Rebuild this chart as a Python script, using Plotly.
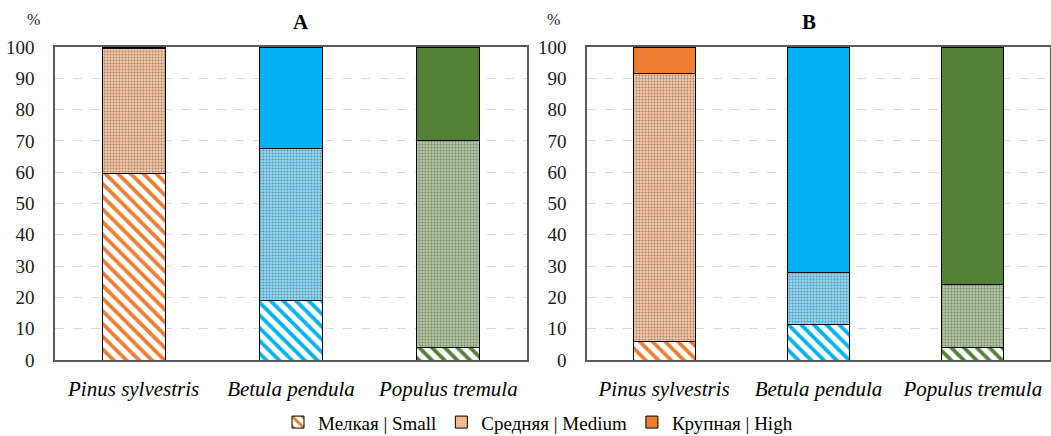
import plotly.graph_objects as go

# Species shown on both panels
species = ["Pinus sylvestris", "Betula pendula", "Populus tremula"]

# Panel A: share (%) of each size class
a_small = [59.5, 19, 4]
a_medium = [40, 48.5, 66]
a_high = [0.5, 32.5, 30]

# Panel B: share (%) of each size class
b_small = [6, 11.5, 4]
b_medium = [85.5, 16.5, 20]
b_high = [8.5, 72, 76]

class_names = ["Мелкая | Small", "Средняя | Medium", "Крупная | High"]
y_ticks = [0, 10, 20, 30, 40, 50, 60, 70, 80, 90, 100]

# One colour per species: strong tone and the pale tone under the dot screen
strong = ["#ED7D31", "#00B0F0", "#538135"]
pale = ["#F8C4A0", "#8AD8F7", "#AEC59F"]

SERIF = "Liberation Serif"
W, H = 1051, 436

fig = go.Figure()


def add_panel(small, medium, high, xa, ya, legend):
    fig.add_trace(go.Bar(
        x=species, y=small, name=class_names[0], xaxis=xa, yaxis=ya,
        showlegend=legend, legendgroup="s",
        marker=dict(color="white", line=dict(color="black", width=1),
                    pattern=dict(shape="\\", fgcolor=strong, bgcolor="white",
                                 size=9, solidity=0.42, fillmode="replace")),
    ))
    fig.add_trace(go.Bar(
        x=species, y=medium, name=class_names[1], xaxis=xa, yaxis=ya,
        showlegend=legend, legendgroup="m",
        marker=dict(color=pale, line=dict(color="black", width=1),
                    pattern=dict(shape=".", fgcolor=strong, size=3,
                                 solidity=0.3, fillmode="overlay")),
    ))
    fig.add_trace(go.Bar(
        x=species, y=high, name=class_names[2], xaxis=xa, yaxis=ya,
        showlegend=legend, legendgroup="h",
        marker=dict(color=strong, line=dict(color="black", width=1)),
    ))


add_panel(a_small, a_medium, a_high, "x", "y", True)
add_panel(b_small, b_medium, b_high, "x2", "y2", False)

y_dom = [1 - 360 / H, 1 - 47 / H]
frame = dict(showline=True, mirror=True, linecolor="#595959", linewidth=1.5)

x_cfg = dict(showgrid=False, ticks="", ticklabelstandoff=9,
             tickfont=dict(family=SERIF, size=21, color="black",
                           style="italic"), **frame)
y_cfg = dict(range=[0, 100], tickvals=y_ticks, showgrid=True,
             gridcolor="#D9D9D9", griddash="dash", gridwidth=1, ticks="",
             ticklabelstandoff=15, zeroline=False,
             tickfont=dict(family=SERIF, size=19, color="#1a1a1a"), **frame)

fig.update_layout(
    width=W, height=H, margin=dict(l=0, r=0, t=0, b=0, autoexpand=False),
    paper_bgcolor="white", plot_bgcolor="white",
    barmode="stack", bargap=0.6,
    xaxis=dict(domain=[55 / W, 527 / W], anchor="y", **x_cfg),
    yaxis=dict(domain=y_dom, anchor="x", **y_cfg),
    xaxis2=dict(domain=[587 / W, 1050 / W], anchor="y2", **x_cfg),
    yaxis2=dict(domain=y_dom, anchor="x2", **y_cfg),
    legend=dict(orientation="h", x=538 / W, xanchor="center",
                y=-0.012, yanchor="bottom",
                font=dict(family=SERIF, size=19, color="black"),
                itemwidth=30, tracegroupgap=0, bgcolor="rgba(0,0,0,0)"),
    font=dict(family=SERIF),
)

# Panel letters and unit labels
for letter, xc in (("A", 291), ("B", 818)):
    fig.add_annotation(text=f"<b>{letter}</b>", x=xc / W, y=1 - 22 / H,
                       xref="paper", yref="paper", showarrow=False,
                       yanchor="middle",
                       font=dict(family=SERIF, size=21, color="black"))
for xc in (25, 553):
    fig.add_annotation(text="%", x=xc / W, y=1 - 20 / H,
                       xref="paper", yref="paper", showarrow=False,
                       yanchor="middle",
                       font=dict(family=SERIF, size=16, color="#1a1a1a"))

fig.write_html("out.html")
